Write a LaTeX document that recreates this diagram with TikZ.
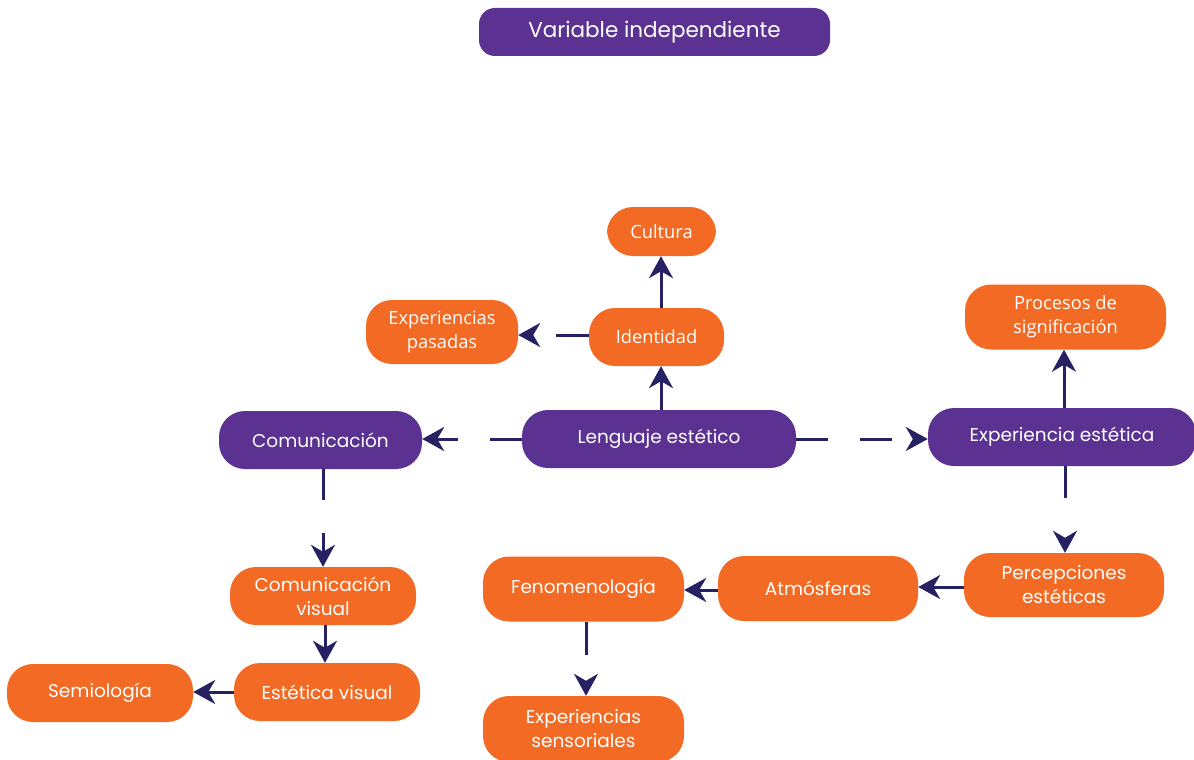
\documentclass[tikz,border=0pt]{standalone}
\usepackage{fontspec}
\setmainfont{Poppins}
\newfontfamily\humfont{Open Sans}
\usetikzlibrary{
    positioning,
    arrows.meta
}
\definecolor{mapPurple}{RGB}{91, 50, 145}
\definecolor{mapOrange}{RGB}{242, 106, 35}
\definecolor{mapNavy}{RGB}{38, 33, 98}

\begin{document}
\begin{tikzpicture}[x=1pt, y=-1pt,
        box/.style={rounded corners=26pt, inner sep=0pt, text=white, align=center,
            font=\fontsize{18.5}{24}\selectfont},
        purplebox/.style={box, fill=mapPurple},
        orangebox/.style={box, fill=mapOrange},
        humbox/.style={orangebox, font=\humfont\fontsize{18.3}{24}\selectfont},
        flow/.style={mapNavy, line width=3pt, -{Stealth[length=22pt, width=24pt, inset=7pt]}}
    ]
    \useasboundingbox (0,0) rectangle (1194,760);

    \node[purplebox, rounded corners=16pt, minimum width=351pt, minimum height=48pt,
        font=\fontsize{21.5}{24}\selectfont] (variable) at (654.5,32) {Variable independiente};

    % rama superior
    \node[humbox, minimum width=109pt, minimum height=49pt] (cultura) at (661.5,231.5) {Cultura};
    \node[humbox, minimum width=135pt, minimum height=58pt] (identidad) at (656.5,337) {Identidad};
    \node[humbox, minimum width=152pt, minimum height=64pt] (pasadas) at (442,332) {Experiencias\\pasadas};
    \node[purplebox, minimum width=274pt, minimum height=58pt] (lenguaje) at (659,439) {Lenguaje estético};

    % rama izquierda
    \node[purplebox, minimum width=203pt, minimum height=58pt] (comunicacion) at (320.5,440) {Comunicación};
    \node[orangebox, minimum width=186pt, minimum height=58pt] (comvisual) at (323,596) {Comunicación\\visual};
    \node[orangebox, minimum width=186pt, minimum height=58pt] (estvisual) at (327,692) {Estética visual};
    \node[orangebox, minimum width=186pt, minimum height=58pt] (semiologia) at (100,693) {Semiología};

    % rama derecha
    \node[purplebox, minimum width=268pt, minimum height=58pt] (estetica) at (1062,437) {Experiencia estética};
    \node[humbox, minimum width=201pt, minimum height=65pt] (procesos) at (1065.5,317) {Procesos de\\significación};
    \node[orangebox, minimum width=200pt, minimum height=64pt] (percepciones) at (1064,585) {Percepciones\\estéticas};
    \node[orangebox, minimum width=200pt, minimum height=65pt] (atmosferas) at (818,588.5) {Atmósferas};
    \node[orangebox, minimum width=201pt, minimum height=65pt] (fenomenologia) at (583.5,589) {Fenomenología};
    \node[orangebox, minimum width=201pt, minimum height=66pt] (sensoriales) at (583.5,729) {Experiencias\\sensoriales};

    \draw[flow] (identidad.north -| 661,0) -- (cultura.south -| 661,0);
    \draw[flow] (lenguaje.north -| 661,0) -- (identidad.south -| 661,0);
    \draw[flow, dash pattern=on 33pt off 40pt] (identidad.west |- 0,335) -- (pasadas.east |- 0,335);
    \draw[flow, dash pattern=on 32pt off 32pt] (lenguaje.west) -- (comunicacion.east |- lenguaje.west);
    \draw[flow, dash pattern=on 32pt off 32pt] (lenguaje.east) -- (estetica.west |- lenguaje.east);

    \draw[flow, dash pattern=on 31pt off 33pt] (comunicacion.south -| comvisual) -- (comvisual.north);
    \draw[flow] (comvisual.south -| 325,0) -- (estvisual.north -| 325,0);
    \draw[flow] (estvisual.west) -- (semiologia.east |- estvisual.west);

    \draw[flow] (estetica.north -| 1064,0) -- (procesos.south -| 1064,0);
    \draw[flow, dash pattern=on 32pt off 60pt] (estetica.south -| 1065,0) -- (percepciones.north -| 1065,0);
    \draw[flow] (percepciones.west |- 0,587) -- (atmosferas.east |- 0,587);
    \draw[flow] (atmosferas.west |- 0,590) -- (fenomenologia.east |- 0,590);
    \draw[flow, dash pattern=on 33pt off 60pt] (fenomenologia.south -| 586,0) -- (sensoriales.north -| 586,0);
\end{tikzpicture}
\end{document}
